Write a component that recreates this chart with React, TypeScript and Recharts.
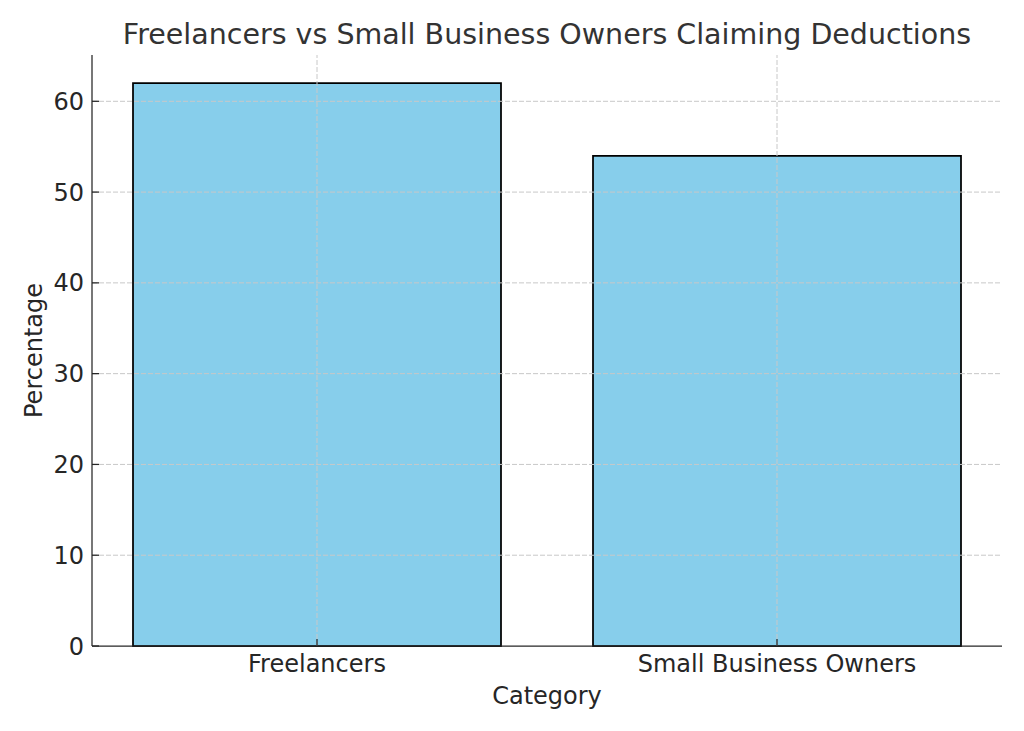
import React from 'react';
import {
  BarChart,
  Bar,
  XAxis,
  YAxis,
  ReferenceLine,
  Label
} from 'recharts';

const categories = ['Freelancers', 'Small Business Owners'];
const percentages = [62, 54];
const yTicks = [0, 10, 20, 30, 40, 50, 60];

const chartData = categories.map((category, i) => ({
  category,
  percentage: percentages[i]
}));

const FONT = '"DejaVu Sans", sans-serif';
const INK = '#262626';

const XAxisTitle = ({ viewBox }: any) => (
  <text
    x={viewBox.x + viewBox.width / 2}
    y={viewBox.y + 58}
    textAnchor="middle"
    fontFamily={FONT}
    fontSize={24}
    fill={INK}
  >
    Category
  </text>
);

const YAxisTitle = ({ viewBox }: any) => {
  const cx = 42;
  const cy = viewBox.y + viewBox.height / 2;
  return (
    <text
      x={cx}
      y={cy}
      transform={`rotate(-90 ${cx} ${cy})`}
      textAnchor="middle"
      fontFamily={FONT}
      fontSize={24}
      fill={INK}
    >
      Percentage
    </text>
  );
};

export default function App() {
  return (
    <div style={{ position: 'absolute', left: 0, top: 0, width: 1024, height: 731, background: '#fff' }}>
      <div
        style={{
          position: 'absolute',
          left: 92,
          top: 21,
          width: 910,
          textAlign: 'center',
          fontFamily: FONT,
          fontSize: 28.5,
          lineHeight: 1,
          color: '#333333',
          whiteSpace: 'nowrap'
        }}
      >
        Freelancers vs Small Business Owners Claiming Deductions
      </div>
      <BarChart
        width={1024}
        height={731}
        data={chartData}
        margin={{ top: 55, right: 22, bottom: 25, left: 32 }}
      >
        <XAxis
          dataKey="category"
          height={60}
          padding={{ left: -5, right: -5 }}
          tickSize={-7}
          tickMargin={16}
          stroke={INK}
          strokeWidth={1.25}
          tick={{ fontFamily: FONT, fontSize: 24, fill: INK }}
          tickLine={{ stroke: INK, strokeWidth: 1.25 }}
        >
          <Label content={XAxisTitle} />
        </XAxis>
        <YAxis
          width={60}
          domain={[0, 65.1]}
          ticks={yTicks}
          tickSize={-7}
          tickMargin={15}
          stroke={INK}
          strokeWidth={1.25}
          tick={{ fontFamily: FONT, fontSize: 24, fill: INK }}
          tickLine={{ stroke: INK, strokeWidth: 1.25 }}
        >
          <Label content={YAxisTitle} />
        </YAxis>
        <Bar
          dataKey="percentage"
          fill="#87CEEB"
          stroke="#000"
          strokeWidth={1.75}
          barSize={368}
          isAnimationActive={false}
        />
        {yTicks.filter(t => t > 0).map(t => (
          <ReferenceLine key={`h-${t}`} y={t} stroke="#c8c8c8" strokeDasharray="5 2" strokeWidth={1} />
        ))}
        {categories.map(c => (
          <ReferenceLine key={`v-${c}`} x={c} stroke="#c8c8c8" strokeDasharray="5 2" strokeWidth={1} />
        ))}
      </BarChart>
    </div>
  );
}
